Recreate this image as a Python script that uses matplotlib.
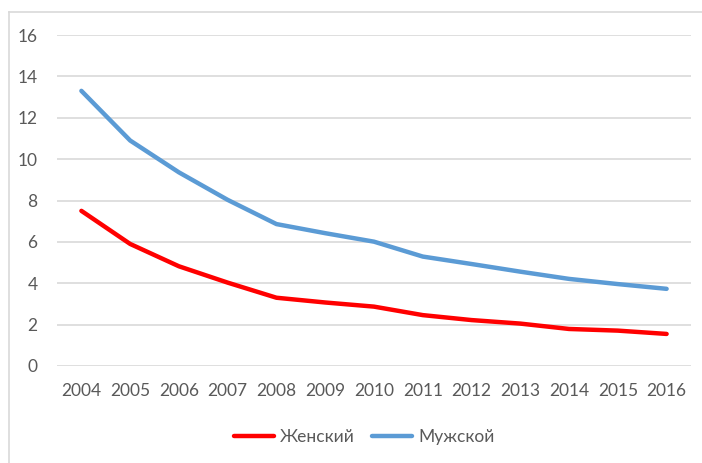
import numpy as np
import matplotlib.pyplot as plt
from matplotlib.lines import Line2D

years = ['2004', '2005', '2006', '2007', '2008', '2009', '2010',
         '2011', '2012', '2013', '2014', '2015', '2016']
female = [7.5, 5.9, 4.82, 4.03, 3.3, 3.07, 2.87, 2.46, 2.22, 2.05, 1.79, 1.71, 1.55]
male = [13.3, 10.9, 9.36, 8.03, 6.86, 6.42, 6.01, 5.29, 4.93, 4.56, 4.21, 3.96, 3.73]

plt.rcParams['font.family'] = ['Lato', 'DejaVu Sans']

W, H = 702, 463
fig = plt.figure(figsize=(W / 100, H / 100), dpi=100)
ax = fig.add_axes([57 / W, (H - 366) / H, (691 - 57) / W, (366 - 35) / H])

x = np.arange(len(years))
ax.plot(x, female, color='#ff0000', lw=3.2, solid_capstyle='round', label='Женский')
ax.plot(x, male, color='#5b9bd5', lw=3.2, solid_capstyle='round', label='Мужской')

ax.set_xlim(-0.5, len(years) - 0.5)
ax.set_ylim(0, 16)
ax.set_yticks(range(0, 17, 2))
ax.set_xticks(x)
ax.set_xticklabels(years)
for y in range(0, 17, 2):
    ax.axhline(y, color='#d9d9d9', lw=1.2, zorder=0)
for s in ax.spines.values():
    s.set_visible(False)
ax.tick_params(length=0, labelsize=12.5, colors='#595959', pad=12)
ax.tick_params(axis='y', pad=14)

leg = ax.legend(loc='center', bbox_to_anchor=(364 / W, (H - 437) / H),
                bbox_transform=fig.transFigure, ncol=2, frameon=False,
                fontsize=12.5, handlelength=2.3, handletextpad=0.35,
                columnspacing=1.0)
for t in leg.get_texts():
    t.set_color('#595959')

# outer chart frame
fig.add_artist(Line2D([9 / W, 9 / W], [0, (H - 12) / H], color='#d9d9d9', lw=1.2))
fig.add_artist(Line2D([9 / W, 1], [(H - 12) / H, (H - 12) / H], color='#d9d9d9', lw=1.2))

fig.savefig('out.png', dpi=100)
